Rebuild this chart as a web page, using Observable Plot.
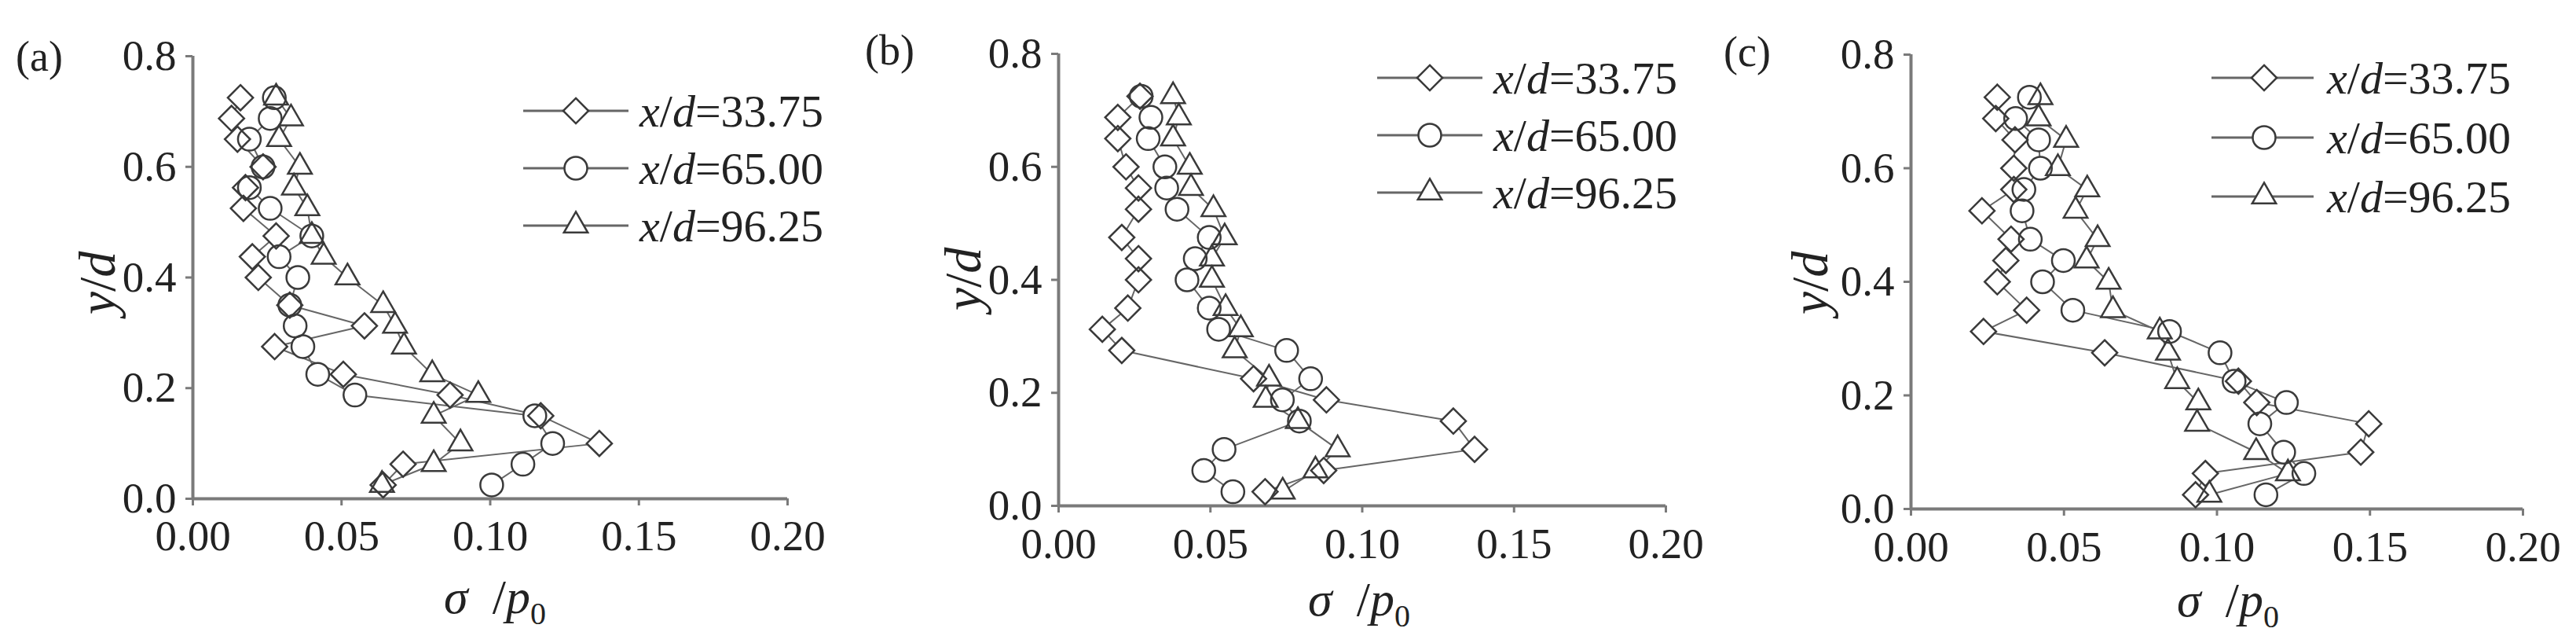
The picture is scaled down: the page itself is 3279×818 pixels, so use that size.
<!DOCTYPE html>
<html>
<head>
<meta charset="utf-8">
<script src="https://cdn.jsdelivr.net/npm/d3@7"></script>
<script src="https://cdn.jsdelivr.net/npm/@observablehq/plot@0.6"></script>
<style>
  html, body { margin: 0; padding: 0; background: #fff; }
  #wrap { position: relative; width: 3279px; height: 818px; overflow: hidden; background: #fff; }
  .panel { position: absolute; top: 0; }
  #overlay { position: absolute; left: 0; top: 0; pointer-events: none; }
</style>
</head>
<body>
<div id="wrap"></div>
<script>
// ---------- data ----------
const seriesNames = ["x/d=33.75", "x/d=65.00", "x/d=96.25"];
const yPos = [0.025, 0.0625, 0.1, 0.15, 0.1875, 0.225, 0.275, 0.3125, 0.35, 0.4, 0.4375, 0.475, 0.525, 0.5625, 0.6, 0.65, 0.6875, 0.725];
const xTicks = [0, 0.05, 0.10, 0.15, 0.20];
const yTicks = [0, 0.2, 0.4, 0.6, 0.8];

// panel (a)
const a_3375 = [0.064, 0.0707, 0.1367, 0.117, 0.0865, 0.0506, 0.0275, 0.0577, 0.0326, 0.022, 0.020, 0.028, 0.017, 0.0177, 0.0236, 0.015, 0.013, 0.016];
const a_6500 = [0.1005, 0.111, 0.121, 0.115, 0.0545, 0.042, 0.037, 0.0344, 0.0326, 0.0353, 0.029, 0.040, 0.026, 0.019, 0.0236, 0.019, 0.026, 0.0274];
const a_9625 = [0.0636, 0.081, 0.090, 0.081, 0.096, 0.0805, 0.071, 0.068, 0.064, 0.052, 0.044, 0.040, 0.0385, 0.034, 0.036, 0.029, 0.033, 0.028];
// panel (b)
const b_3375 = [0.068, 0.0873, 0.137, 0.130, 0.0882, 0.0642, 0.0208, 0.0144, 0.0228, 0.0263, 0.0263, 0.0208, 0.0263, 0.0263, 0.0222, 0.0195, 0.0195, 0.0268];
const b_6500 = [0.0574, 0.0478, 0.0545, 0.0793, 0.0737, 0.083, 0.0751, 0.0527, 0.0496, 0.0423, 0.045, 0.0496, 0.039, 0.0356, 0.035, 0.0295, 0.0304, 0.0272];
const b_9625 = [0.0738, 0.0846, 0.0919, 0.0788, 0.0682, 0.0693, 0.058, 0.060, 0.055, 0.0505, 0.0505, 0.0547, 0.051, 0.0436, 0.0432, 0.0377, 0.0396, 0.0377];
// panel (c)
const c_3375 = [0.093, 0.0962, 0.147, 0.1496, 0.113, 0.107, 0.0633, 0.0237, 0.0378, 0.0282, 0.031, 0.0327, 0.0232, 0.0336, 0.0336, 0.034, 0.0277, 0.0282];
const c_6500 = [0.116, 0.1284, 0.1218, 0.114, 0.1227, 0.1056, 0.101, 0.0845, 0.0529, 0.043, 0.0498, 0.039, 0.0363, 0.0369, 0.0423, 0.0417, 0.0342, 0.0387];
const c_9625 = [0.0975, 0.1232, 0.1128, 0.0935, 0.0939, 0.087, 0.084, 0.0813, 0.066, 0.0646, 0.0574, 0.061, 0.0538, 0.0576, 0.048, 0.0507, 0.0417, 0.0423];

const panelLabels = ["(a)", "(b)", "(c)"];

// ---------- layout ----------
const FONT = "'Liberation Serif', 'Times New Roman', serif";
const panels = [
  {label: panelLabels[0], series: [a_3375, a_6500, a_9625], left: 0,    width: 1100, mL: 245, mR: 98, mT: 71, mB: 184, xPad: 17,
   lab: [20, 71], leg: {rows: [141, 214, 287], x1: 666, x2: 800, mx: 733, tx: 814}, ytit: [123, 360], xtit: [630, 758]},
  {label: panelLabels[1], series: [b_3375, b_6500, b_9625], left: 1100, width: 1100, mL: 247, mR: 80, mT: 68, mB: 175, xPad: 18,
   lab: [1101, 63], leg: {rows: [99, 172, 245], x1: 1753, x2: 1887, mx: 1820, tx: 1901}, ytit: [1225, 355], xtit: [1730, 761]},
  {label: panelLabels[2], series: [c_3375, c_6500, c_9625], left: 2200, width: 1079, mL: 232, mR: 68, mT: 69, mB: 171, xPad: 18,
   lab: [2194, 65], leg: {rows: [99, 175, 250], x1: 2815, x2: 2945, mx: 2882, tx: 2962}, ytit: [2303, 360], xtit: [2836, 762]}
];
const symbols = ["diamond2", "circle", "triangle2"];
const AXIS = "#7a7a7a", LINE = "#666", MARK = "#3a3a3a", TEXT = "#222";

const wrap = document.getElementById("wrap");

for (const p of panels) {
  const rows = [];
  p.series.forEach((vals, si) => vals.forEach((v, i) => rows.push({s: seriesNames[si], x: v, y: yPos[i]})));
  const chart = Plot.plot({
    width: p.width, height: 818,
    marginLeft: p.mL, marginRight: p.mR, marginTop: p.mT, marginBottom: p.mB,
    style: {fontFamily: FONT, background: "transparent", overflow: "visible"},
    x: {domain: [0, 0.2]},
    y: {domain: [0, 0.8]},
    symbol: {domain: seriesNames, range: symbols},
    marks: [
      Plot.axisX(xTicks, {tickFormat: d3.format(".2f"), tickSize: 9, tickPadding: p.xPad, stroke: AXIS, strokeWidth: 3, fill: TEXT, fontSize: 55, label: null}),
      Plot.axisY(yTicks, {tickFormat: d3.format(".1f"), tickSize: 9, tickPadding: 12, stroke: AXIS, strokeWidth: 3, fill: TEXT, fontSize: 55, label: null}),
      Plot.ruleY([0], {stroke: AXIS, strokeWidth: 4}),
      Plot.ruleX([0], {stroke: AXIS, strokeWidth: 4}),
      Plot.line(rows, {x: "x", y: "y", z: "s", stroke: LINE, strokeWidth: 2}),
      Plot.dot(rows, {x: "x", y: "y", symbol: "s", r: 14.5, fill: "white", stroke: "none"}),
      Plot.dot(rows, {x: "x", y: "y", symbol: "s", r: 14.5, fill: "none", stroke: MARK, strokeWidth: 2.5})
    ]
  });
  chart.classList.add("panel");
  chart.style.left = p.left + "px";
  wrap.appendChild(chart);
}

// ---------- overlay: panel labels, axis titles, legends ----------
const svg = d3.select(wrap).append("svg").attr("id", "overlay")
  .attr("width", 3279).attr("height", 818)
  .style("font-family", FONT);

for (const p of panels) {
  svg.append("text").attr("x", p.lab[0]).attr("y", p.lab[1]).attr("dy", "0.35em")
    .attr("font-size", 54).attr("fill", TEXT).text(p.label);

  // y title
  const yt = svg.append("text").attr("transform", `translate(${p.ytit[0]},${p.ytit[1]}) rotate(-90)`)
    .attr("text-anchor", "middle").attr("dy", "0.35em").attr("font-size", 66).attr("fill", TEXT);
  yt.append("tspan").attr("font-style", "italic").text("y");
  yt.append("tspan").text("/");
  yt.append("tspan").attr("font-style", "italic").text("d");

  // x title
  const xt = svg.append("text").attr("x", p.xtit[0]).attr("y", p.xtit[1])
    .attr("text-anchor", "middle").attr("dy", "0.35em").attr("font-size", 62).attr("fill", TEXT);
  xt.append("tspan").attr("font-style", "italic").text("σ");
  xt.append("tspan").attr("xml:space", "preserve").text("\u2002/");
  xt.append("tspan").attr("font-style", "italic").text("p");
  xt.append("tspan").attr("font-size", 40).attr("dy", "0.35em").text("0");

  // legend
  p.leg.rows.forEach((ry, i) => {
    svg.append("line").attr("x1", p.leg.x1).attr("x2", p.leg.x2).attr("y1", ry).attr("y2", ry)
      .attr("stroke", LINE).attr("stroke-width", 3);
    const sym = [d3.symbolDiamond2, d3.symbolCircle, d3.symbolTriangle2][i];
    svg.append("path").attr("d", d3.symbol(sym, Math.PI * 14.5 * 14.5)())
      .attr("transform", `translate(${p.leg.mx},${ry})`)
      .attr("fill", "white").attr("stroke", MARK).attr("stroke-width", 2.5);
    const t = svg.append("text").attr("x", p.leg.tx).attr("y", ry).attr("dy", "0.35em")
      .attr("font-size", 58).attr("fill", TEXT);
    t.append("tspan").attr("font-style", "italic").text("x");
    t.append("tspan").text("/");
    t.append("tspan").attr("font-style", "italic").text("d");
    t.append("tspan").text(seriesNames[i].slice(3));
  });
}
</script>
</body>
</html>
